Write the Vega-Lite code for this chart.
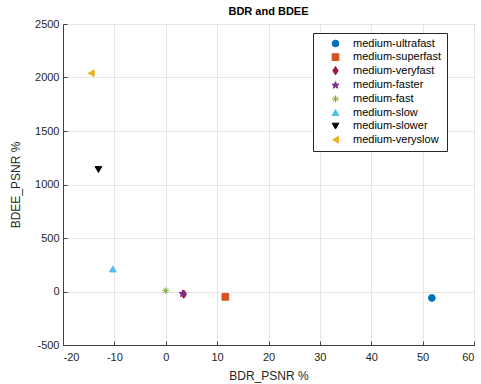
{
  "$schema": "https://vega.github.io/schema/vega-lite/v6.json",
  "width": 411,
  "height": 321,
  "autosize": {"type": "none"},
  "padding": {"left": 63, "top": 24, "right": 7, "bottom": 39},
  "background": "white",
  "title": {"text": "BDR and BDEE", "font": "Liberation Sans", "fontSize": 11, "fontWeight": "bold", "color": "#000000", "offset": 1},
  "config": {
    "view": {"stroke": "#404040", "strokeWidth": 1},
    "axis": {
      "labelFont": "Liberation Sans", "labelFontSize": 11, "labelColor": "#262626",
      "titleFont": "Liberation Sans", "titleFontSize": 12, "titleFontWeight": "normal", "titleColor": "#262626",
      "domainColor": "#404040", "tickColor": "#404040", "tickSize": -4, "labelPadding": 8,
      "gridColor": "#e6e6e6", "gridWidth": 1, "labelExpr": "datum.value + ''"
    }
  },
  "data": {"values": [
    {"series": "medium-ultrafast", "bdr": 51.8, "bdee": -60},
    {"series": "medium-superfast", "bdr": 11.6, "bdee": -50},
    {"series": "medium-veryfast", "bdr": 3.5, "bdee": -25},
    {"series": "medium-faster", "bdr": 3.3, "bdee": -20},
    {"series": "medium-fast", "bdr": 0, "bdee": 7},
    {"series": "medium-slow", "bdr": -10.3, "bdee": 210},
    {"series": "medium-slower", "bdr": -13.1, "bdee": 1140},
    {"series": "medium-veryslow", "bdr": -14.5, "bdee": 2040}
  ]},
  "mark": {"type": "point", "filled": true, "size": 45, "opacity": 1, "strokeWidth": 1},
  "encoding": {
    "x": {"field": "bdr", "type": "quantitative", "title": "BDR_PSNR %",
      "scale": {"domain": [-20, 60], "nice": false, "zero": false},
      "axis": {"values": [-20, -10, 0, 10, 20, 30, 40, 50, 60], "titlePadding": 8, "labelPadding": 10}},
    "y": {"field": "bdee", "type": "quantitative", "title": "BDEE_PSNR %",
      "scale": {"domain": [-500, 2500], "nice": false, "zero": false},
      "axis": {"values": [-500, 0, 500, 1000, 1500, 2000, 2500], "titlePadding": 12}},
    "color": {"field": "series", "type": "nominal", "title": null,
      "scale": {"domain": ["medium-ultrafast", "medium-superfast", "medium-veryfast", "medium-faster", "medium-fast", "medium-slow", "medium-slower", "medium-veryslow"],
        "range": ["#0072BD", "#D95319", "#A2142F", "#7E2F8E", "#77AC30", "#4DBEEE", "#000000", "#EDB120"]},
      "legend": {"orient": "none", "legendX": 250, "legendY": 9, "strokeColor": "#262626", "fillColor": "white",
        "padding": 5, "labelFont": "Liberation Sans", "labelFontSize": 11, "labelColor": "#000000",
        "symbolSize": 45, "symbolOffset": 12, "labelOffset": 12, "rowPadding": 1.6, "labelLimit": 200, "symbolStrokeWidth": 1}},
    "stroke": {"field": "series", "type": "nominal", "title": null,
      "scale": {"domain": ["medium-ultrafast", "medium-superfast", "medium-veryfast", "medium-faster", "medium-fast", "medium-slow", "medium-slower", "medium-veryslow"],
        "range": ["#0072BD", "#D95319", "#A2142F", "#7E2F8E", "#77AC30", "#4DBEEE", "#000000", "#EDB120"]},
      "legend": {"orient": "none", "legendX": 250, "legendY": 9, "strokeColor": "#262626", "fillColor": "white",
        "padding": 5, "labelFont": "Liberation Sans", "labelFontSize": 11, "labelColor": "#000000",
        "symbolSize": 45, "symbolOffset": 12, "labelOffset": 12, "rowPadding": 1.6, "labelLimit": 200, "symbolStrokeWidth": 1}},
    "shape": {"field": "series", "type": "nominal", "title": null,
      "scale": {"domain": ["medium-ultrafast", "medium-superfast", "medium-veryfast", "medium-faster", "medium-fast", "medium-slow", "medium-slower", "medium-veryslow"],
        "range": ["circle", "square", "M0,-1.25L0.8,0L0,1.25L-0.8,0Z",
          "M0,-1.1L0.26,-0.36L1.05,-0.34L0.42,0.14L0.65,0.89L0,0.44L-0.65,0.89L-0.42,0.14L-1.05,-0.34L-0.26,-0.36Z",
          "M-1,0L1,0M0,-1L0,1M-0.7,-0.7L0.7,0.7M-0.7,0.7L0.7,-0.7",
          "triangle-up", "triangle-down", "triangle-left"]},
      "legend": {"orient": "none", "legendX": 250, "legendY": 9, "strokeColor": "#262626", "fillColor": "white",
        "padding": 5, "labelFont": "Liberation Sans", "labelFontSize": 11, "labelColor": "#000000",
        "symbolSize": 45, "symbolOffset": 12, "labelOffset": 12, "rowPadding": 1.6, "labelLimit": 200, "symbolStrokeWidth": 1}}
  }
}
